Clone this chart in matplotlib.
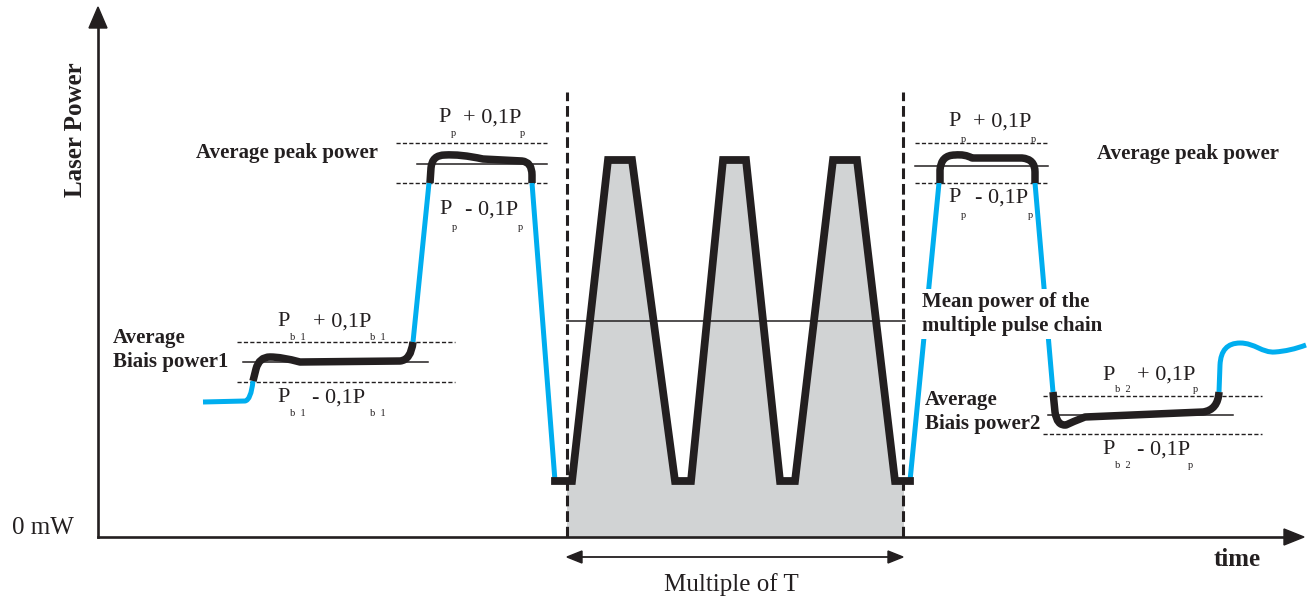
import matplotlib
matplotlib.use("Agg")
import matplotlib.pyplot as plt
from matplotlib.path import Path
from matplotlib.patches import PathPatch, Rectangle, Polygon

plt.rcParams['font.family'] = ['Liberation Serif', 'DejaVu Serif']

BLACK = '#231f20'
BLUE = '#00aeef'
GRAY = '#d1d3d4'

# power levels (arbitrary units, 0 = 0 mW)
p_bias1, p_bias1_tol = 175, 20
p_peak, p_peak_tol = 374, 20
p_bias2, p_bias2_tol = 122, 19
p_mean = 216
p_pulse_hi, p_pulse_lo = 377, 56

# pulse chain (time, power)
chain_t = [555, 572, 608, 632, 675, 691, 723, 746, 780, 795, 833, 857, 895, 910]
chain_p = [56, 56, 377, 377, 56, 56, 377, 377, 56, 56, 377, 377, 56, 56]
t_chain_start, t_chain_end = 567, 903

# waveform pieces: M move, L line, Q quadratic, C cubic
blue_pieces = [
    [('M', (203, 135)), ('L', (245, 136)), ('Q', (251, 137), (253, 156))],
    [('M', (413, 195)), ('L', (429, 354))],
    [('M', (532, 354)), ('L', (555, 56))],
    [('M', (910, 56)), ('L', (939, 354))],
    [('M', (1035, 354)), ('L', (1053, 145))],
    [('M', (1219, 145)), ('L', (1220, 172)), ('Q', (1221, 194), (1240, 194)),
     ('C', (1255, 194), (1262, 184), (1275, 185)), ('Q', (1290, 186), (1306, 192))],
]
black_pieces = [
    [('M', (253, 156)), ('L', (256, 168)), ('Q', (259, 180), (270, 180)),
     ('Q', (282, 180), (300, 175)), ('L', (400, 176)), ('Q', (411, 177), (413, 195))],
    [('M', (430, 354)), ('L', (431, 369)), ('Q', (432, 382), (445, 382)),
     ('Q', (460, 383), (483, 378)), ('L', (522, 376)), ('Q', (532, 375), (532, 362)),
     ('L', (532, 354))],
    [('M', (940, 354)), ('L', (940, 367)), ('Q', (941, 382), (955, 382)),
     ('Q', (965, 383), (972, 379)), ('L', (1022, 379)), ('Q', (1035, 378), (1035, 365)),
     ('L', (1035, 354))],
    [('M', (1053, 145)), ('L', (1055, 125)), ('Q', (1057, 111), (1066, 112)),
     ('Q', (1072, 115), (1085, 120)), ('L', (1203, 125)), ('Q', (1218, 127), (1219, 145))],
]

# reference level lines: (t0, t1, power)
dashed_levels = [
    (237, 455, p_bias1 + p_bias1_tol), (237, 455, p_bias1 - p_bias1_tol),
    (396, 547, p_peak + p_peak_tol), (396, 547, p_peak - p_peak_tol),
    (915, 1048, p_peak + p_peak_tol), (915, 1048, p_peak - p_peak_tol),
    (1043, 1262, p_bias2 + p_bias2_tol), (1043, 1262, p_bias2 - p_bias2_tol),
]
solid_levels = [
    (243, 428, p_bias1), (417, 547, p_peak - 1), (915, 1048, p_peak - 3),
    (1048, 1233, p_bias2), (567, 905, p_mean),
]


def make_path(ops):
    verts, codes = [], []
    for op in ops:
        if op[0] == 'M':
            verts.append(op[1]); codes.append(Path.MOVETO)
        elif op[0] == 'L':
            verts.append(op[1]); codes.append(Path.LINETO)
        elif op[0] == 'Q':
            verts += [op[1], op[2]]; codes += [Path.CURVE3] * 2
        else:
            verts += [op[1], op[2], op[3]]; codes += [Path.CURVE4] * 3
    return Path(verts, codes)


fig = plt.figure(figsize=(13.15, 6.03), dpi=100)
ax = fig.add_axes([0, 0, 1, 1])
ax.set_xlim(0, 1315)
ax.set_ylim(-66, 537)
ax.axis('off')

# gray area under pulse chain
fb = ax.fill_between(chain_t, chain_p, 0, color=GRAY, lw=0, zorder=1)
fb.set_clip_path(Rectangle((t_chain_start, 0), t_chain_end - t_chain_start, 500,
                           transform=ax.transData))

for t0, t1, p in dashed_levels:
    ax.plot([t0, t1], [p, p], color=BLACK, lw=1.0, dashes=(3, 1.6), zorder=2)
for t0, t1, p in solid_levels:
    ax.plot([t0, t1], [p, p], color=BLACK, lw=1.1, zorder=2)

for t in (t_chain_start, t_chain_end):
    ax.plot([t, t], [0, 445], color=BLACK, lw=2.2, dashes=(3.5, 1.6), zorder=2)

ax.plot(chain_t, chain_p, color=BLACK, lw=5.6, solid_joinstyle='miter', zorder=4)
for ops in blue_pieces:
    ax.add_patch(PathPatch(make_path(ops), fill=False, ec=BLUE, lw=3.6,
                           capstyle='butt', joinstyle='round', zorder=3))
for ops in black_pieces:
    ax.add_patch(PathPatch(make_path(ops), fill=False, ec=BLACK, lw=5.4,
                           capstyle='butt', joinstyle='round', zorder=4))

# axes with arrow heads
ax.plot([98, 98], [0, 512], color=BLACK, lw=1.9, zorder=5)
ax.plot([98, 1288], [0, 0], color=BLACK, lw=1.9, zorder=5)
ax.add_patch(Polygon([(89, 509), (107, 509), (98, 530)], color=BLACK, zorder=5))
ax.add_patch(Polygon([(1284, -8), (1284, 8), (1304, 0)], color=BLACK, zorder=5))

# "Multiple of T" double arrow
ax.plot([580, 890], [-20, -20], color=BLACK, lw=1.3)
ax.add_patch(Polygon([(567, -20), (582, -14), (582, -26)], color=BLACK))
ax.add_patch(Polygon([(903, -20), (888, -14), (888, -26)], color=BLACK))

ax.text(12, 9, '0 mW', fontsize=18, ha='left', va='center', color=BLACK)
ax.text(76, 407, 'Laser Power', fontsize=18, fontweight='bold', rotation=90,
        ha='center', va='center', color=BLACK)
ax.text(1237, -23, 'time', fontsize=18, fontweight='bold', ha='center', va='center', color=BLACK)
ax.text(731, -48, 'Multiple of T', fontsize=18, ha='center', va='center', color=BLACK)

bold_kw = dict(fontsize=15, fontweight='bold', color=BLACK, va='center', ha='left',
               linespacing=1.28)
ax.text(196, 384, 'Average peak power', **bold_kw)
ax.text(1097, 383, 'Average peak power', **bold_kw)
ax.text(113, 187, 'Average\nBiais power1', **bold_kw)
ax.text(925, 125, 'Average\nBiais power2', **bold_kw)
ax.text(922, 223, 'Mean power of the\nmultiple pulse chain', zorder=6,
        bbox=dict(fc='white', ec='none', pad=2), **bold_kw)


def tol_label(x, p, sub1, sign, x_sign, sub2, x_sub2, dx_sub1=13, dp=15):
    kw = dict(fontsize=16, color=BLACK, va='center', ha='left', zorder=6)
    skw = dict(fontsize=7.5, color=BLACK, va='center', ha='left', zorder=6)
    ax.text(x, p, 'P', **kw)
    ax.text(x + dx_sub1, p - dp, sub1, **skw)
    ax.text(x_sign, p, sign + ' 0,1P', **kw)
    ax.text(x_sub2, p - dp, sub2, **skw)


tol_label(277, 215, 'b  1', '+', 313, 'b  1', 370)
tol_label(277, 139, 'b  1', '-', 312, 'b  1', 370)
tol_label(438, 419, 'p', '+', 463, 'p', 520)
tol_label(439, 327, 'p', '-', 465, 'p', 518, dp=17)
tol_label(948, 415, 'p', '+', 973, 'p', 1031, dp=17)
tol_label(948, 339, 'p', '-', 975, 'p', 1028, dp=17)
tol_label(1102, 162, 'b  2', '+', 1137, 'p', 1193)
tol_label(1102, 87, 'b  2', '-', 1137, 'p', 1188)

fig.savefig('out.png', dpi=100)
